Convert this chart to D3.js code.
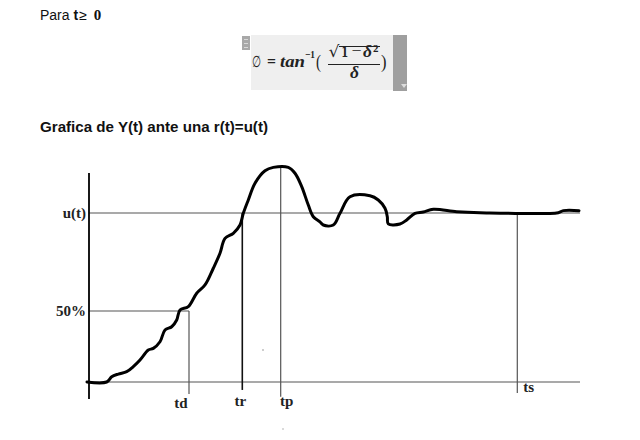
<!DOCTYPE html>
<html><head><meta charset="utf-8">
<script src="https://cdn.jsdelivr.net/npm/d3@7"></script>
<style>html,body{margin:0;padding:0;background:#fff}svg{display:block}</style>
</head><body>
<script>
// ---- data ----
const curveT = [-0.2,1.77,2.27,2.93,3.77,4.43,5.1,5.93,6.43,7.1,7.6,8.27,8.77,9.1,9.93,10.77,11.6,12.43,13.1,13.6,14.43,15.1,15.43,15.93,16.6,17.6,18.43,19.93,20.6,21.27,21.93,22.43,23.1,23.43,24.43,25.1,26.1,28.1,28.93,29.6,29.83,29.93,31.1,31.77,32.6,33.43,34.43,36.77,39.1,46.93,47.43,49.0];
const curveY = [0,0,0.031,0.047,0.061,0.091,0.130,0.189,0.199,0.238,0.308,0.327,0.367,0.426,0.446,0.525,0.574,0.673,0.762,0.850,0.880,0.929,0.998,1.077,1.176,1.250,1.270,1.270,1.235,1.156,1.047,0.978,0.947,0.929,0.929,0.998,1.096,1.102,1.077,1.028,0.978,0.935,0.935,0.959,0.998,1.006,1.022,1.008,1.002,1.002,1.014,1.014];
const levelLabels = ["u(t)", "50%"];
const levelValues = [1.0, 0.42];
const markerLabels = ["td", "tr", "tp", "ts"];
const markerT = [10.0, 15.33, 19.17, 42.83];
const markerFrom = [0.42, 1.0, 1.27, 1.0];
const tDomain = [-0.3, 49.1];
const yDomain = [0, 1];

// ---- layout ----
const W = 640, H = 440;
const svg = d3.select("body").append("svg").attr("width", W).attr("height", H);
const x = d3.scaleLinear().domain(tDomain).range([86, 580]);
const y = d3.scaleLinear().domain(yDomain).range([382, 213]);

// header text
const hdr = svg.append("text").attr("x", 40).attr("y", 20)
  .attr("font-family", "Liberation Sans, Arial, sans-serif").attr("font-size", 14).attr("fill", "#111");
hdr.append("tspan").text("Para ");
hdr.append("tspan").attr("font-weight", "bold").text("t");
hdr.append("tspan").attr("dx", 1).text("≥ ");
hdr.append("tspan").attr("font-weight", "bold").attr("font-family", "Liberation Serif, serif").attr("font-size", 15).attr("dx", 3).text("0");

// formula box
svg.append("rect").attr("x", 251).attr("y", 35).attr("width", 143).attr("height", 55).attr("fill", "#efefef");
svg.append("rect").attr("x", 393).attr("y", 35).attr("width", 14).attr("height", 56).attr("fill", "#9f9f9f");
svg.append("path").attr("d", "M401,84 L407,84 L404,88 Z").attr("fill", "#ddd");
svg.append("rect").attr("x", 242).attr("y", 36).attr("width", 8).attr("height", 14).attr("fill", "#a8a8a8");
[39, 43, 47].forEach(yy => svg.append("rect").attr("x", 244).attr("y", yy).attr("width", 4).attr("height", 1).attr("fill", "#d8d8d8"));

const fm = svg.append("g").attr("font-family", "Liberation Serif, DejaVu Serif, serif")
  .attr("font-weight", "bold").attr("font-style", "italic").attr("fill", "#222").attr("font-size", 17);
function ft(txt, x0, y0, w, opts) {
  const t = fm.append("text").attr("x", x0).attr("y", y0).text(txt);
  if (w) t.attr("textLength", w).attr("lengthAdjust", "spacingAndGlyphs");
  if (opts) Object.entries(opts).forEach(([k, v]) => t.attr(k, v));
  return t;
}
ft("∅", 252, 67, 9, {"font-family": "DejaVu Sans, sans-serif", "font-style": "normal", "font-size": 16, "font-weight": "normal"});
ft("=", 267, 67, 9, {"font-style": "normal"});
ft("tan", 280, 67, 25);
ft("−1", 305, 58, 10, {"font-size": 11, "font-style": "normal"});
ft("(", 316, 68, 5, {"font-style": "normal", "font-weight": "normal", "font-size": 18});
ft("√", 328.5, 57, 11, {"font-family": "DejaVu Sans, sans-serif", "font-style": "normal", "font-weight": "normal", "font-size": 16});
fm.append("line").attr("x1", 339).attr("x2", 380).attr("y1", 46.5).attr("y2", 46.5).attr("stroke", "#222").attr("stroke-width", 1);
ft("1", 341.5, 57, 6.5, {"font-style": "normal"});
ft("−", 351.5, 56, 10, {"font-style": "normal", "font-weight": "normal"});
ft("δ", 363, 57, 9);
ft("2", 373, 52, 5.5, {"font-size": 11, "font-style": "normal"});
fm.append("line").attr("x1", 328).attr("x2", 380).attr("y1", 64.5).attr("y2", 64.5).attr("stroke", "#222").attr("stroke-width", 1);
ft("δ", 350, 78, 9);
ft(")", 381, 68, 5.5, {"font-style": "normal", "font-weight": "normal", "font-size": 18});

// title
svg.append("text").attr("x", 40).attr("y", 132)
  .attr("font-family", "Liberation Sans, Arial, sans-serif").attr("font-weight", "bold").attr("font-size", 14)
  .attr("textLength", 228).attr("lengthAdjust", "spacingAndGlyphs")
  .attr("fill", "#111").text("Grafica de Y(t) ante una r(t)=u(t)");

// reference lines
const g = svg.append("g");
const refStroke = "#555";
g.append("line").attr("x1", x(tDomain[0])).attr("x2", x(tDomain[1])).attr("y1", y(0)).attr("y2", y(0))
  .attr("stroke", refStroke).attr("stroke-width", 1.2);
levelValues.forEach((v, i) => {
  const xEnd = i === 0 ? x(tDomain[1]) : x(markerT[0]);
  g.append("line").attr("x1", x(0)).attr("x2", xEnd).attr("y1", y(v)).attr("y2", y(v))
    .attr("stroke", refStroke).attr("stroke-width", 1.2);
  g.append("text").attr("x", x(0) - 3).attr("y", y(v) + 5).attr("text-anchor", "end")
    .attr("font-family", "Liberation Serif, Times New Roman, serif").attr("font-weight", "bold")
    .attr("font-size", 15).attr("fill", "#222").text(levelLabels[i]);
});
const markerBottom = [-0.071, -0.047, -0.087, -0.065];
const labelPos = [[-8, 408], [-2, 406], [6, 406], [6, 392]];
markerT.forEach((t, i) => {
  g.append("line").attr("x1", x(t)).attr("x2", x(t)).attr("y1", y(markerFrom[i])).attr("y2", y(markerBottom[i]))
    .attr("stroke", i === 1 ? "#111" : refStroke).attr("stroke-width", i === 1 ? 1.6 : 1.2);
  g.append("text").attr("x", x(t) + labelPos[i][0]).attr("y", labelPos[i][1])
    .attr("text-anchor", i === 3 ? "start" : "middle")
    .attr("font-family", "Liberation Serif, Times New Roman, serif").attr("font-weight", "bold")
    .attr("font-size", 15).attr("fill", "#222").text(markerLabels[i]);
});
g.append("line").attr("x1", x(0)).attr("x2", x(0)).attr("y1", y(1.237)).attr("y2", y(-0.10))
  .attr("stroke", "#000").attr("stroke-width", 1.8);

// response curve
const pts = curveT.map((t, i) => [t, curveY[i]]);
const line = d3.line().x(d => x(d[0])).y(d => y(d[1])).curve(d3.curveCatmullRom.alpha(0.5));
svg.append("path").datum(pts).attr("d", line).attr("fill", "none")
  .attr("stroke", "#000").attr("stroke-width", 3).attr("stroke-linejoin", "round").attr("stroke-linecap", "round");

// small specks
svg.append("circle").attr("cx", 263).attr("cy", 350).attr("r", 0.7).attr("fill", "#777");
svg.append("circle").attr("cx", 283).attr("cy", 429).attr("r", 0.7).attr("fill", "#999");
</script>
</body></html>
